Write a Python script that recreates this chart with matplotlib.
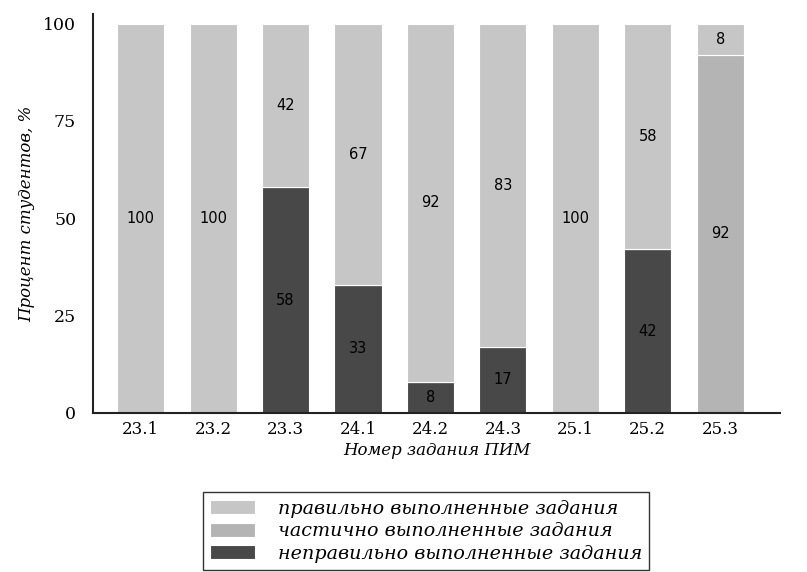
import matplotlib
matplotlib.use("Agg")
import matplotlib.pyplot as plt
import numpy as np

tasks = ["23.1", "23.2", "23.3", "24.1", "24.2", "24.3", "25.1", "25.2", "25.3"]
incorrect = [0, 0, 58, 33, 8, 17, 0, 42, 0]
partial = [0, 0, 0, 0, 0, 0, 0, 0, 92]
correct = [100, 100, 42, 67, 92, 83, 100, 58, 8]

labels = ["правильно выполненные задания",
          "частично выполненные задания",
          "неправильно выполненные задания"]
colors = {"correct": "#c6c6c6", "partial": "#b4b4b4", "incorrect": "#484848"}

plt.rcParams["font.family"] = ["DejaVu Serif"]

fig = plt.figure(figsize=(8.07, 5.72), dpi=100)
ax = fig.add_axes([0.115, 0.278, 0.852, 0.697])

x = np.arange(len(tasks))
w = 0.65
inc = np.array(incorrect)
par = np.array(partial)
cor = np.array(correct)

b_inc = ax.bar(x, inc, w, color=colors["incorrect"], edgecolor="white", linewidth=0.8, label=labels[2])
b_par = ax.bar(x, par, w, bottom=inc, color=colors["partial"], edgecolor="white", linewidth=0.8, label=labels[1])
b_cor = ax.bar(x, cor, w, bottom=inc + par, color=colors["correct"], edgecolor="white", linewidth=0.8, label=labels[0])

# value labels in the middle of each segment
for bars, vals in [(b_inc, inc), (b_par, par), (b_cor, cor)]:
    for rect, v in zip(bars, vals):
        if v <= 0:
            continue
        ax.text(rect.get_x() + rect.get_width() / 2, rect.get_y() + rect.get_height() / 2,
                str(v), ha="center", va="center", fontsize=10.5, family="DejaVu Sans",
                color="black")

ax.set_xlim(-0.66, 8.83)
ax.set_ylim(0, 102.4)
ax.set_yticks([0, 25, 50, 75, 100])
ax.set_xticks(x)
ax.set_xticklabels(tasks)
ax.tick_params(axis="both", length=0, labelsize=12, pad=6)
ax.tick_params(axis="y", labelsize=12.5, pad=12)

for s in ["top", "right"]:
    ax.spines[s].set_visible(False)
for s in ["left", "bottom"]:
    ax.spines[s].set_color("#222222")
    ax.spines[s].set_linewidth(1.5)

ax.set_ylabel("Процент студентов, %", fontsize=12, style="italic", labelpad=6)
ax.set_xlabel("Номер задания ПИМ", fontsize=12, style="italic", labelpad=3)

handles = [b_cor, b_par, b_inc]
leg = fig.legend(handles, labels, loc="upper center", bbox_to_anchor=(0.528, 0.139),
                 borderaxespad=0,
                 prop={"style": "italic", "size": 13.8}, frameon=True, fancybox=False,
                 edgecolor="black", handlelength=2.3, handleheight=0.75,
                 labelspacing=0.22, borderpad=0.4, handletextpad=1.2)
leg.get_frame().set_linewidth(1.0)

fig.savefig("out.png", dpi=100)
